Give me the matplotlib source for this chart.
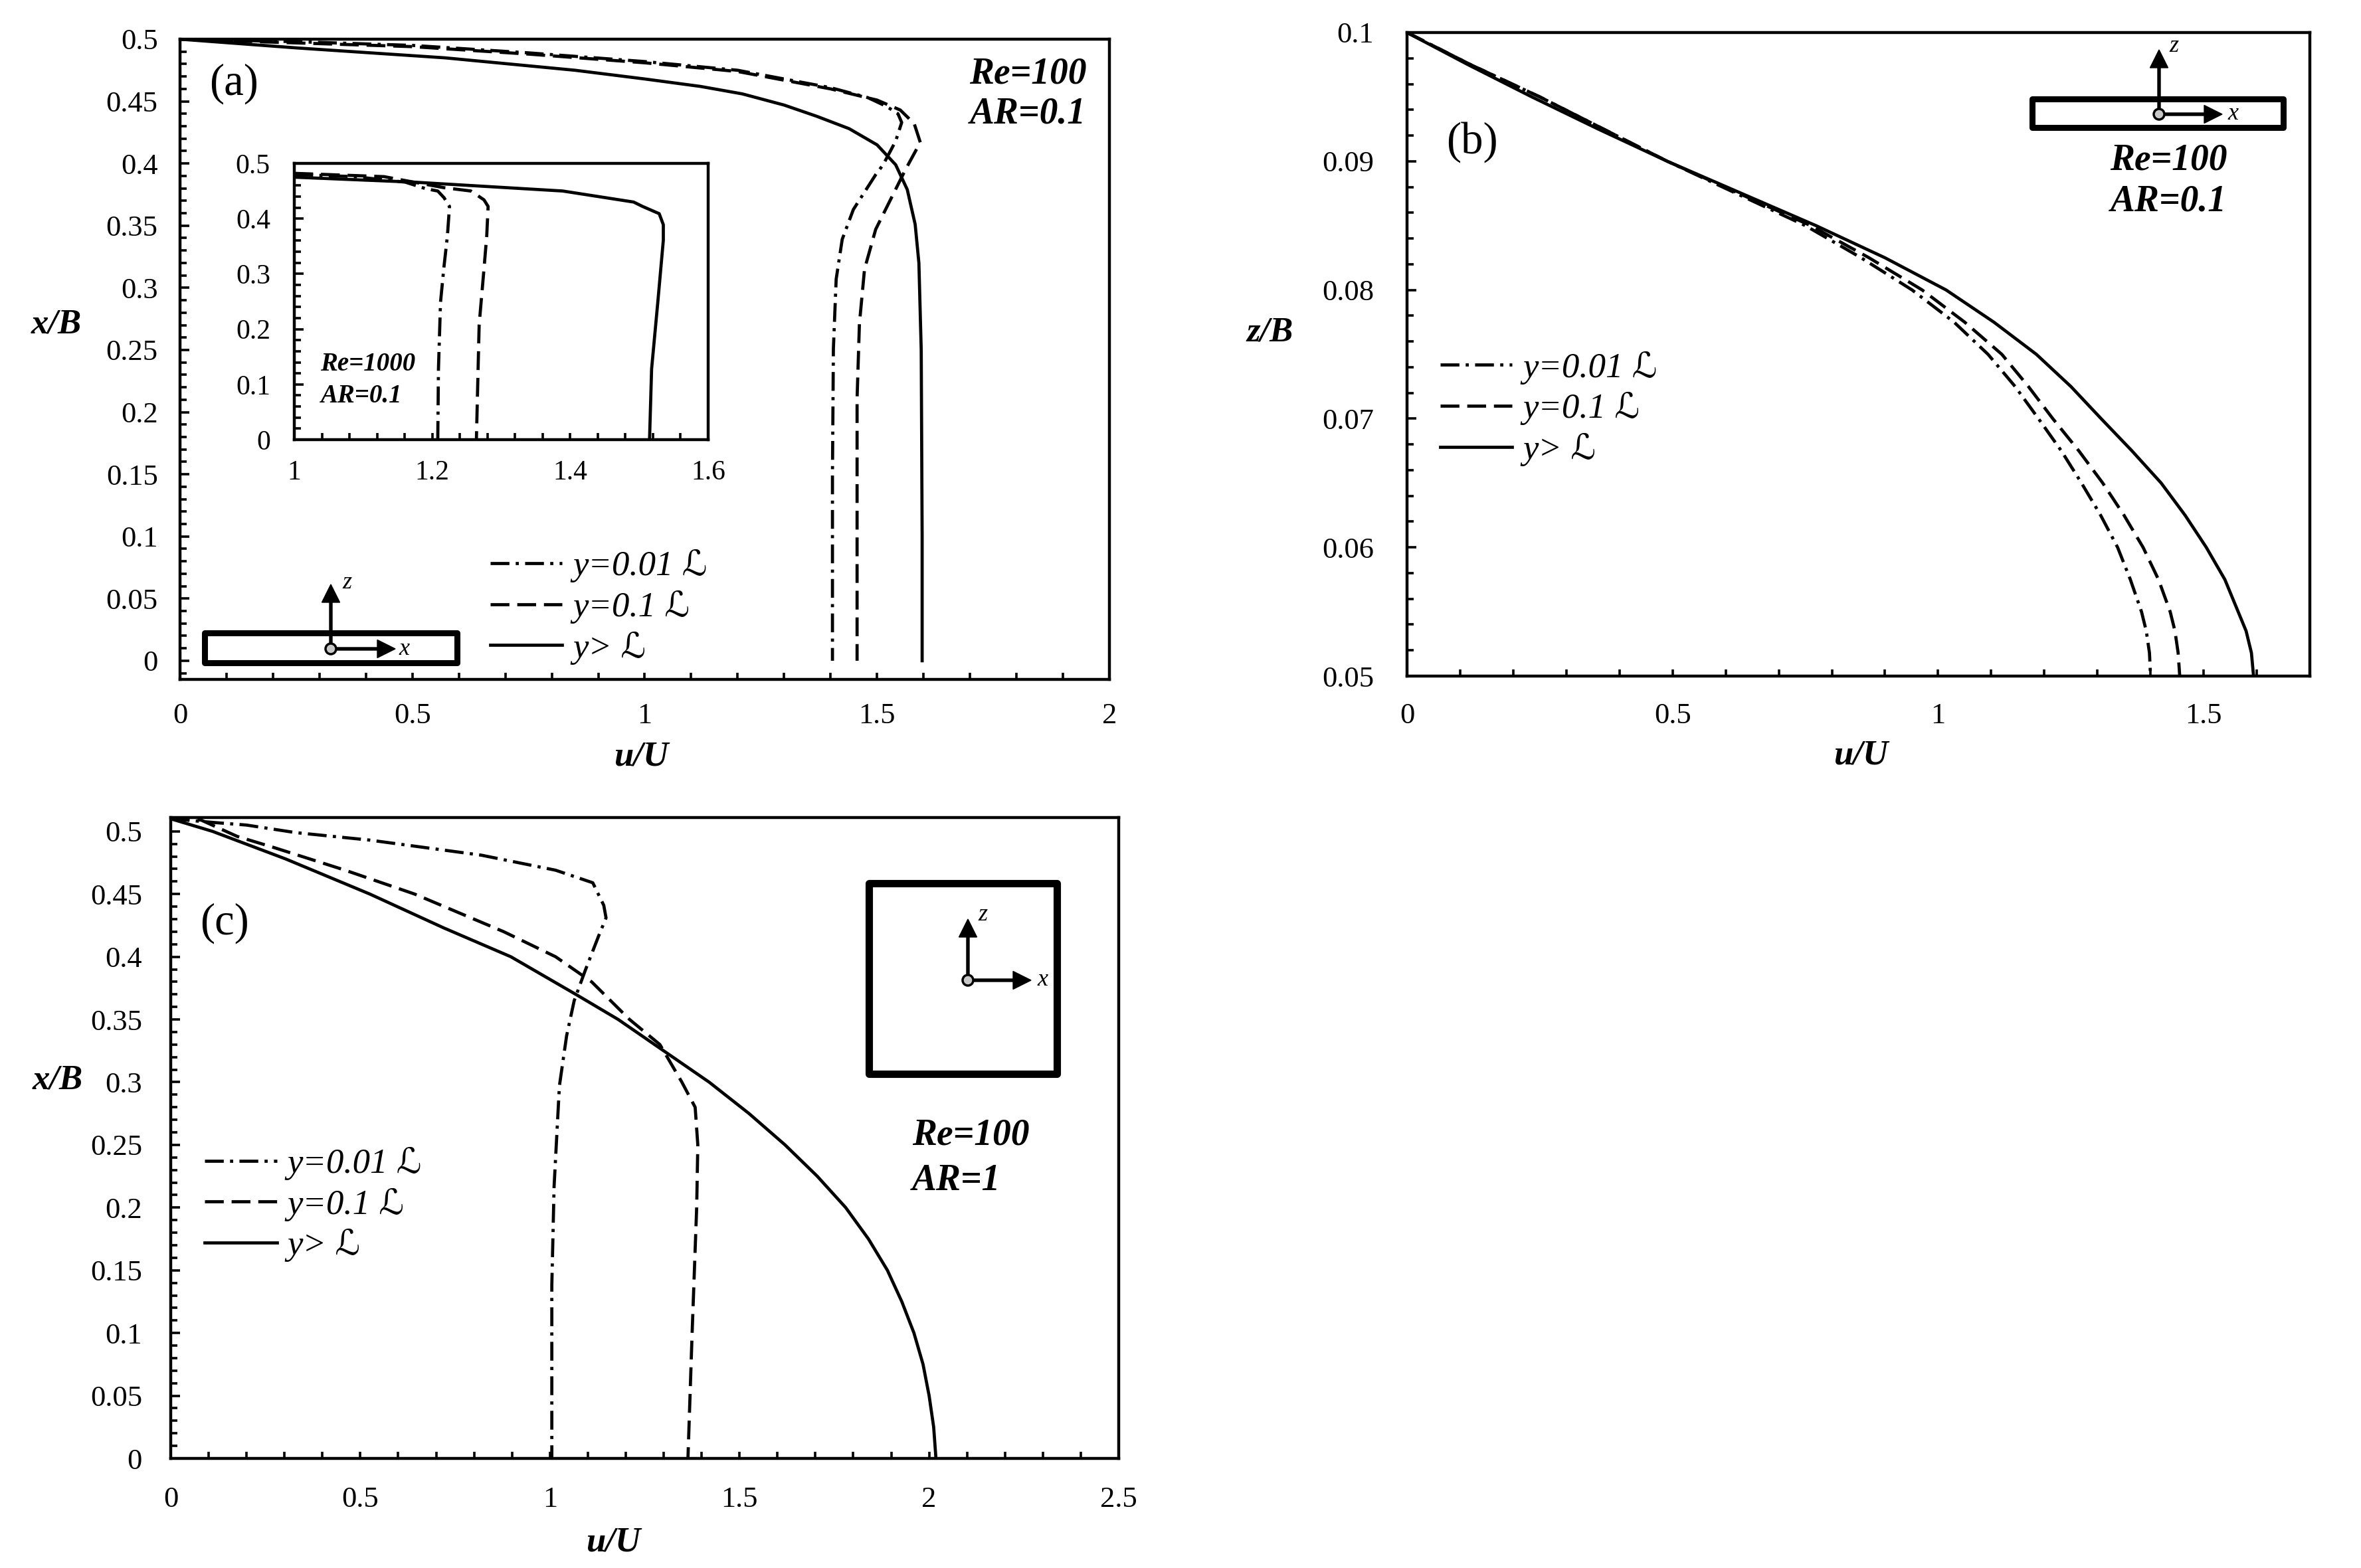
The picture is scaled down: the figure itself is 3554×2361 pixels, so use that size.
import numpy as np
import matplotlib.pyplot as plt
from matplotlib.ticker import MultipleLocator, FuncFormatter
from matplotlib.patches import Rectangle, Circle, FancyArrow

plt.rcParams['font.family'] = ['Liberation Serif', 'DejaVu Serif', 'DejaVu Sans']

# ---------------- data ----------------
legend_labels = ['y=0.01 \u2112', 'y=0.1 \u2112', 'y> \u2112']

# (a) Re=100, AR=0.1 : x/B against u/U
a_dd_u = [0, 0.25, 0.5, 0.75, 1.0, 1.2, 1.3, 1.4, 1.48, 1.52, 1.545, 1.553, 1.54, 1.513, 1.497,
          1.449, 1.425, 1.412, 1.406, 1.404, 1.404]
a_dd_x = [0.5, 0.498, 0.495, 0.489, 0.482, 0.475, 0.468, 0.461, 0.453, 0.446, 0.44, 0.433, 0.418,
          0.399, 0.391, 0.363, 0.339, 0.307, 0.251, 0.15, 0]
a_d_u = [0, 0.25, 0.5, 0.75, 1.0, 1.2, 1.3, 1.4, 1.5, 1.55, 1.58, 1.593, 1.561, 1.529, 1.497,
         1.473, 1.462, 1.457, 1.457]
a_d_x = [0.5, 0.497, 0.494, 0.488, 0.481, 0.474, 0.467, 0.46, 0.451, 0.443, 0.432, 0.417, 0.395,
         0.371, 0.347, 0.315, 0.271, 0.211, 0]
a_s_u = [0, 0.25, 0.57, 0.85, 1.0, 1.12, 1.21, 1.3, 1.37, 1.44, 1.5, 1.54, 1.565, 1.582, 1.59,
         1.595, 1.597, 1.597]
a_s_x = [0.5, 0.493, 0.485, 0.475, 0.468, 0.462, 0.456, 0.447, 0.438, 0.428, 0.415, 0.399, 0.379,
         0.351, 0.32, 0.25, 0.1, 0]

# inset of (a) Re=1000, AR=0.1
in_dd_u = [1.0, 1.087, 1.161, 1.191, 1.208, 1.217, 1.225, 1.222, 1.217, 1.212, 1.209, 1.208]
in_dd_x = [0.48, 0.476, 0.466, 0.454, 0.45, 0.438, 0.422, 0.369, 0.313, 0.249, 0.128, 0]
in_d_u = [1.0, 1.13, 1.217, 1.256, 1.275, 1.281, 1.279, 1.275, 1.268, 1.264]
in_d_x = [0.482, 0.476, 0.456, 0.45, 0.434, 0.422, 0.369, 0.309, 0.208, 0]
in_s_u = [1.0, 1.174, 1.389, 1.492, 1.505, 1.529, 1.535, 1.535, 1.527, 1.518, 1.515]
in_s_x = [0.475, 0.466, 0.45, 0.43, 0.422, 0.409, 0.389, 0.361, 0.249, 0.128, 0]

# (b) Re=100, AR=0.1 : z/B against u/U
b_z = [0.1, 0.0975, 0.095, 0.0925, 0.09, 0.0875, 0.085, 0.0825, 0.08, 0.0775, 0.075, 0.0725,
       0.07, 0.0675, 0.065, 0.0625, 0.06, 0.0575, 0.055, 0.0535, 0.0518, 0.05]
b_dd_u = [0, 0.12, 0.25, 0.37, 0.49, 0.62, 0.75, 0.855, 0.951, 1.03, 1.094, 1.145, 1.189, 1.232,
          1.27, 1.306, 1.338, 1.362, 1.383, 1.392, 1.398, 1.40]
b_d_u = [0, 0.12, 0.25, 0.37, 0.49, 0.625, 0.76, 0.87, 0.97, 1.05, 1.12, 1.17, 1.216, 1.265,
         1.31, 1.35, 1.386, 1.415, 1.437, 1.446, 1.452, 1.455]
b_s_u = [0, 0.115, 0.235, 0.36, 0.49, 0.63, 0.77, 0.9, 1.015, 1.105, 1.185, 1.25, 1.307, 1.365,
         1.42, 1.465, 1.505, 1.54, 1.565, 1.58, 1.59, 1.594]

# (c) Re=100, AR=1 : x/B against u/U
c_dd_u = [0, 0.116, 0.2, 0.329, 0.525, 0.819, 1.015, 1.113, 1.142, 1.148, 1.129, 1.093, 1.064,
          1.044, 1.025, 1.011, 1.005, 1.005]
c_dd_x = [0.51, 0.507, 0.505, 0.499, 0.493, 0.481, 0.469, 0.459, 0.441, 0.431, 0.417, 0.389,
          0.365, 0.337, 0.297, 0.217, 0.138, 0]
c_d_u = [0, 0.08, 0.175, 0.273, 0.46, 0.643, 0.878, 1.015, 1.11, 1.21, 1.29, 1.348, 1.383, 1.39,
         1.387, 1.375, 1.364]
c_d_x = [0.51, 0.509, 0.496, 0.487, 0.469, 0.45, 0.42, 0.4, 0.38, 0.35, 0.33, 0.3, 0.28, 0.25,
         0.2, 0.1, 0]
c_s_u = [0, 0.11, 0.303, 0.525, 0.72, 0.897, 1.074, 1.18, 1.30, 1.42, 1.525, 1.62, 1.705, 1.78,
         1.84, 1.89, 1.928, 1.96, 1.984, 2.0, 2.012, 2.018]
c_s_x = [0.51, 0.5, 0.478, 0.45, 0.423, 0.4, 0.369, 0.35, 0.325, 0.3, 0.275, 0.25, 0.225, 0.2,
         0.175, 0.15, 0.125, 0.1, 0.075, 0.05, 0.025, 0]

a_xticks = [0, 0.5, 1, 1.5, 2]
a_yticks = [0, 0.05, 0.1, 0.15, 0.2, 0.25, 0.3, 0.35, 0.4, 0.45, 0.5]
in_xticks = [1, 1.2, 1.4, 1.6]
in_yticks = [0, 0.1, 0.2, 0.3, 0.4, 0.5]
b_xticks = [0, 0.5, 1, 1.5]
b_yticks = [0.05, 0.06, 0.07, 0.08, 0.09, 0.1]
c_xticks = [0, 0.5, 1, 1.5, 2, 2.5]
c_yticks = [0, 0.05, 0.1, 0.15, 0.2, 0.25, 0.3, 0.35, 0.4, 0.45, 0.5]

# ---------------- figure ----------------
W, H = 3555, 2361
fig = plt.figure(figsize=(W / 100, H / 100), dpi=100)


def box(l, t, r, b):
    return [l / W, 1 - b / H, (r - l) / W, (b - t) / H]


LW = 3.4
styles = [dict(ls=(0, (6, 2, 1, 2))), dict(ls=(0, (6, 2.5))), dict(ls='-')]
fmt = FuncFormatter(lambda v, p: f'{v:g}')


def style_axes(ax, xminor, yminor, size=32, xpad=24, ypad=28):
    for s in ax.spines.values():
        s.set_linewidth(3.2)
    ax.xaxis.set_minor_locator(MultipleLocator(xminor))
    ax.yaxis.set_minor_locator(MultipleLocator(yminor))
    ax.xaxis.set_major_formatter(fmt)
    ax.yaxis.set_major_formatter(fmt)
    ax.tick_params(axis='both', which='both', direction='in', width=2.6, labelsize=size,
                   top=False, right=False)
    ax.tick_params(axis='x', which='both', length=7.5, pad=xpad)
    ax.tick_params(axis='y', which='major', length=10, pad=ypad)
    ax.tick_params(axis='y', which='minor', length=7)


def draw(ax, series):
    for (u, v), lab, st in zip(series, legend_labels, styles):
        ax.plot(u, v, color='black', lw=LW, label=lab, **st)


def add_legend(ax, x, y):
    ax.legend(loc='upper left', bbox_to_anchor=(x, y), frameon=False,
              prop={'style': 'italic', 'size': 38}, handlelength=2.05, handletextpad=0.3,
              labelspacing=0.22, borderpad=0, borderaxespad=0)


def labels(ax, xl, yl, xpos, ypos):
    ax.set_xlabel(xl, fontsize=38, fontweight='bold', fontstyle='italic')
    ax.set_ylabel(yl, fontsize=38, fontweight='bold', fontstyle='italic', rotation=0)
    ax.xaxis.set_label_coords(*xpos)
    ax.yaxis.set_label_coords(*ypos)
    ax.xaxis.label.set_va('center')
    ax.yaxis.label.set_va('center')
    ax.yaxis.label.set_ha('center')


# (a)
ax_a = fig.add_axes(box(271, 59, 1670, 1023))
draw(ax_a, [(a_dd_u, a_dd_x), (a_d_u, a_d_x), (a_s_u, a_s_x)])
ax_a.set_xlim(0, 2)
ax_a.set_ylim(-0.015, 0.5)
ax_a.set_xticks(a_xticks)
ax_a.set_yticks(a_yticks)
style_axes(ax_a, 0.1, 0.01, xpad=25, ypad=24)
labels(ax_a, 'u/U', 'x/B', (0.496, -0.121), (-0.133, 0.554))
add_legend(ax_a, 0.334, 0.203)

# inset
ax_in = fig.add_axes(box(443, 246, 1066, 662))
draw(ax_in, [(in_dd_u, in_dd_x), (in_d_u, in_d_x), (in_s_u, in_s_x)])
ax_in.set_xlim(1, 1.6)
ax_in.set_ylim(0, 0.5)
ax_in.set_xticks(in_xticks)
ax_in.set_yticks(in_yticks)
style_axes(ax_in, 0.04, 0.02, size=30, xpad=22, ypad=26)

# (b)
ax_b = fig.add_axes(box(2118, 49, 3477, 1018))
b_series = [(b_dd_u, b_z), (b_d_u, b_z), (b_s_u, b_z)]
draw(ax_b, b_series)
ax_b.set_xlim(0, 1.7)
ax_b.set_ylim(0.05, 0.1)
ax_b.set_xticks(b_xticks)
ax_b.set_yticks(b_yticks)
style_axes(ax_b, 0.1, 0.002, xpad=29, ypad=36)
labels(ax_b, 'u/U', 'z/B', (0.503, -0.123), (-0.152, 0.534))
add_legend(ax_b, 0.037, 0.505)

# (c)
ax_c = fig.add_axes(box(257, 1231, 1684, 2196))
draw(ax_c, [(c_dd_u, c_dd_x), (c_d_u, c_d_x), (c_s_u, c_s_x)])
ax_c.set_xlim(0, 2.5)
ax_c.set_ylim(0, 0.511)
ax_c.set_xticks(c_xticks)
ax_c.set_yticks(c_yticks)
style_axes(ax_c, 0.1, 0.01, xpad=30, ypad=31)
labels(ax_c, 'u/U', 'x/B', (0.467, -0.131), (-0.119, 0.59))
add_legend(ax_c, 0.036, 0.486)

# ---------------- annotations (figure pixel coordinates) ----------------
ov = fig.add_axes([0, 0, 1, 1])
ov.set_xlim(0, W)
ov.set_ylim(H, 0)
ov.axis('off')

bi = dict(fontsize=40, fontweight='bold', fontstyle='italic', ha='center', va='center')
ov.text(352, 126, '(a)', fontsize=48, ha='center', va='center')
ov.text(1547, 111, 'Re=100', **bi)
ov.text(1547, 172, 'AR=0.1', **bi)
ov.text(482, 548, 'Re=1000', fontsize=28, fontweight='bold', fontstyle='italic', ha='left', va='center')
ov.text(482, 597, 'AR=0.1', fontsize=28, fontweight='bold', fontstyle='italic', ha='left', va='center')
ov.text(2216, 214, '(b)', fontsize=48, ha='center', va='center')
ov.text(3264, 241, 'Re=100', **bi)
ov.text(3264, 303, 'AR=0.1', **bi)
ov.text(338, 1390, '(c)', fontsize=48, ha='center', va='center')
ov.text(1373, 1710, 'Re=100', **dict(bi, ha='left'))
ov.text(1373, 1778, 'AR=1', **dict(bi, ha='left'))


def axes_sketch(cx, cy, up, right, zlab, xlab):
    ov.add_patch(FancyArrow(cx, cy, 0, up - cy, width=4, head_width=27, head_length=27,
                            length_includes_head=True, color='black', zorder=3))
    ov.add_patch(FancyArrow(cx, cy, right - cx, 0, width=4, head_width=27, head_length=27,
                            length_includes_head=True, color='black', zorder=3))
    ov.add_patch(Circle((cx, cy), 8, fc='#c8c8c8', ec='black', lw=2.5, zorder=4))
    ov.text(zlab[0], zlab[1], 'z', fontsize=26, fontstyle='italic', ha='center', va='center')
    ov.text(xlab[0], xlab[1], 'x', fontsize=26, fontstyle='italic', ha='center', va='center')


ov.add_patch(Rectangle((308, 953), 380, 45, fill=False, lw=6.5, ec='black', joinstyle='round'))
axes_sketch(498, 977, 880, 595, (522, 877), (608, 977))

ov.add_patch(Rectangle((3059, 149), 378, 43, fill=False, lw=6.5, ec='black', joinstyle='round'))
axes_sketch(3250, 172, 75, 3345, (3272, 69), (3361, 172))

ov.add_patch(Rectangle((1308, 1330), 283, 287, fill=False, lw=8, ec='black', joinstyle='round'))
axes_sketch(1457, 1476, 1384, 1552, (1479, 1378), (1569, 1476))

fig.savefig('out.png', dpi=100, facecolor='white')
